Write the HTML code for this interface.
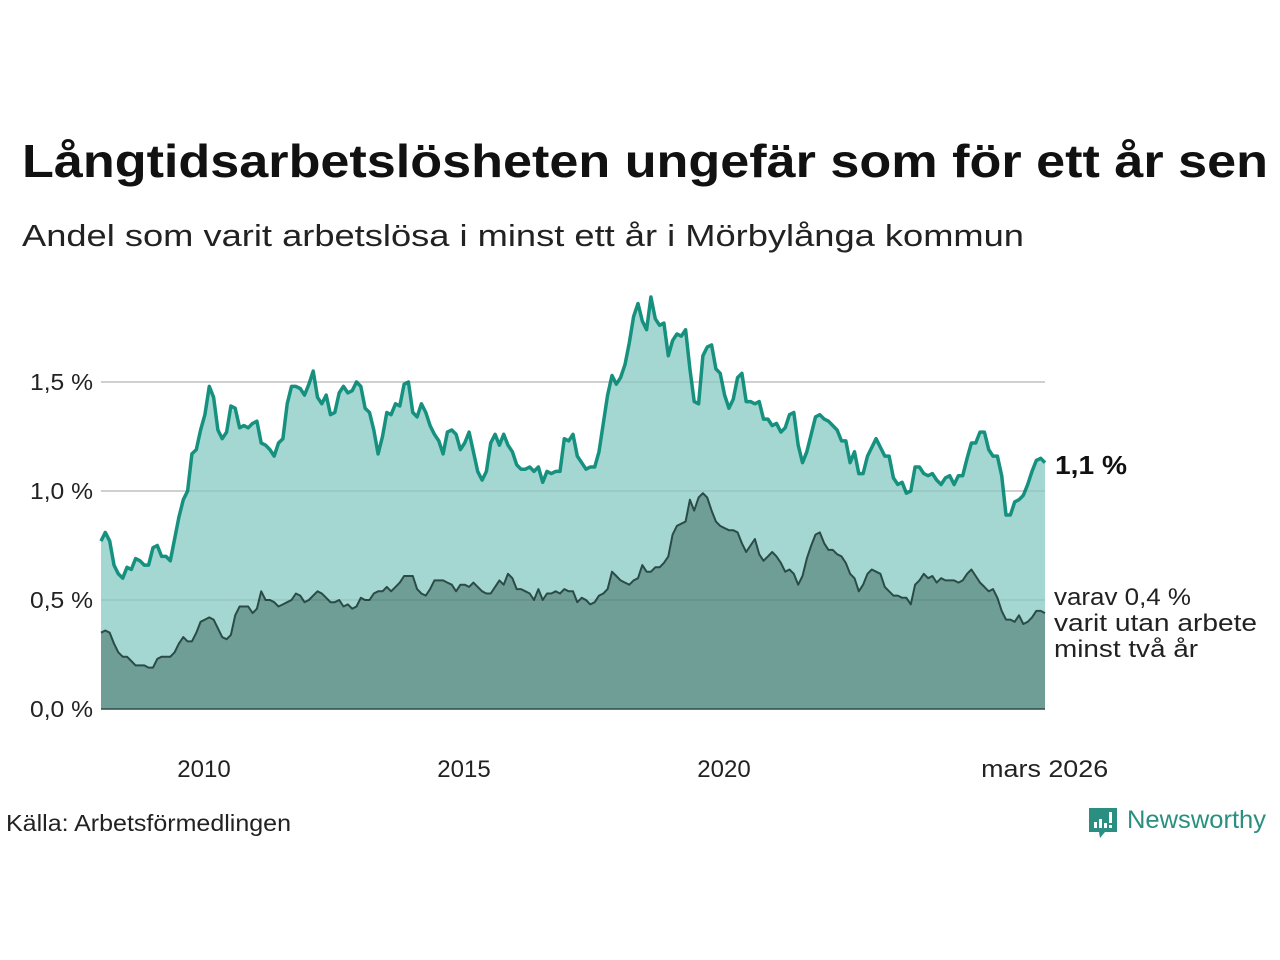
<!DOCTYPE html>
<html><head><meta charset="utf-8"><style>
body{margin:0;background:#fff;}
svg{display:block;font-family:"Liberation Sans","DejaVu Sans",sans-serif;}
</style></head><body>
<svg id="chart" width="1280" height="960" viewBox="0 0 1280 960">
<text x="22" y="177" font-size="46" font-weight="bold" fill="#111" textLength="1246" lengthAdjust="spacingAndGlyphs">Långtidsarbetslösheten ungefär som för ett år sen</text>
<text x="22" y="246" font-size="31" fill="#222" textLength="1002" lengthAdjust="spacingAndGlyphs">Andel som varit arbetslösa i minst ett år i Mörbylånga kommun</text>
<g id="grid"></g>
<g id="areas"></g>
<g id="yticks"></g>
<g id="xticks"></g>
<text x="1055" y="474" font-size="26" font-weight="bold" fill="#111" textLength="72" lengthAdjust="spacingAndGlyphs">1,1 %</text>
<g font-size="24" fill="#222">
<text x="1054" y="605" textLength="137" lengthAdjust="spacingAndGlyphs">varav 0,4 %</text>
<text x="1054" y="631" textLength="203" lengthAdjust="spacingAndGlyphs">varit utan arbete</text>
<text x="1054" y="657" textLength="144" lengthAdjust="spacingAndGlyphs">minst två år</text>
</g>
<text x="6" y="831" font-size="23" fill="#222" textLength="285" lengthAdjust="spacingAndGlyphs">Källa: Arbetsförmedlingen</text>
<g>
<path d="M1089 808 h28 v24 h-12 l-5 6 l-1 -6 h-10 z" fill="#2a8f81"/>
<rect x="1094" y="822" width="3" height="6" fill="#fff"/><rect x="1099" y="819" width="3" height="9" fill="#fff"/><rect x="1104" y="823" width="3" height="5" fill="#fff"/><rect x="1109" y="812" width="3" height="11" fill="#fff"/><rect x="1109" y="825" width="3" height="3" fill="#fff"/>
<text x="1127" y="828" font-size="25" fill="#2a8f81" textLength="139" lengthAdjust="spacingAndGlyphs">Newsworthy</text>
</g>
</svg>
<script>
const totalValues=[0.77,0.81,0.77,0.66,0.62,0.60,0.65,0.64,0.69,0.68,0.66,0.66,
0.74,0.75,0.70,0.70,0.68,0.78,0.88,0.96,1.00,1.17,1.19,1.28,
1.35,1.48,1.43,1.28,1.24,1.27,1.39,1.38,1.29,1.30,1.29,1.31,
1.32,1.22,1.21,1.19,1.16,1.22,1.24,1.40,1.48,1.48,1.47,1.44,
1.49,1.55,1.43,1.40,1.44,1.35,1.36,1.45,1.48,1.45,1.46,1.50,
1.48,1.38,1.36,1.28,1.17,1.25,1.36,1.35,1.40,1.39,1.49,1.50,
1.36,1.34,1.40,1.36,1.30,1.26,1.23,1.17,1.27,1.28,1.26,1.19,
1.22,1.27,1.18,1.09,1.05,1.09,1.22,1.26,1.21,1.26,1.21,1.18,
1.12,1.10,1.10,1.11,1.09,1.11,1.04,1.09,1.08,1.09,1.09,1.24,
1.23,1.26,1.16,1.13,1.10,1.11,1.11,1.18,1.31,1.44,1.53,1.49,
1.52,1.58,1.68,1.80,1.86,1.78,1.74,1.89,1.79,1.76,1.77,1.62,
1.69,1.72,1.71,1.74,1.56,1.41,1.40,1.62,1.66,1.67,1.56,1.54,
1.44,1.38,1.42,1.52,1.54,1.41,1.41,1.40,1.41,1.33,1.33,1.30,
1.31,1.27,1.29,1.35,1.36,1.21,1.13,1.18,1.26,1.34,1.35,1.33,
1.32,1.30,1.28,1.23,1.23,1.13,1.18,1.08,1.08,1.16,1.20,1.24,
1.20,1.16,1.16,1.06,1.03,1.04,0.99,1.00,1.11,1.11,1.08,1.07,
1.08,1.05,1.03,1.06,1.07,1.03,1.07,1.07,1.15,1.22,1.22,1.27,
1.27,1.19,1.16,1.16,1.07,0.89,0.89,0.95,0.96,0.98,1.03,1.09,
1.14,1.15,1.13];
const longValues=[0.35,0.36,0.35,0.30,0.26,0.24,0.24,0.22,0.20,0.20,0.20,0.19,
0.19,0.23,0.24,0.24,0.24,0.26,0.30,0.33,0.31,0.31,0.35,0.40,
0.41,0.42,0.41,0.37,0.33,0.32,0.34,0.43,0.47,0.47,0.47,0.44,
0.46,0.54,0.50,0.50,0.49,0.47,0.48,0.49,0.50,0.53,0.52,0.49,
0.50,0.52,0.54,0.53,0.51,0.49,0.49,0.50,0.47,0.48,0.46,0.47,
0.51,0.50,0.50,0.53,0.54,0.54,0.56,0.54,0.56,0.58,0.61,0.61,
0.61,0.55,0.53,0.52,0.55,0.59,0.59,0.59,0.58,0.57,0.54,0.57,
0.57,0.56,0.58,0.56,0.54,0.53,0.53,0.56,0.59,0.57,0.62,0.60,
0.55,0.55,0.54,0.53,0.50,0.55,0.50,0.53,0.53,0.54,0.53,0.55,
0.54,0.54,0.49,0.51,0.50,0.48,0.49,0.52,0.53,0.55,0.63,0.61,
0.59,0.58,0.57,0.59,0.60,0.66,0.63,0.63,0.65,0.65,0.67,0.70,
0.80,0.84,0.85,0.86,0.96,0.91,0.97,0.99,0.97,0.91,0.86,0.84,
0.83,0.82,0.82,0.81,0.76,0.72,0.75,0.78,0.71,0.68,0.70,0.72,
0.70,0.67,0.63,0.64,0.62,0.57,0.61,0.69,0.75,0.80,0.81,0.76,
0.73,0.73,0.71,0.70,0.67,0.62,0.60,0.54,0.57,0.62,0.64,0.63,
0.62,0.56,0.54,0.52,0.52,0.51,0.51,0.48,0.57,0.59,0.62,0.60,
0.61,0.58,0.60,0.59,0.59,0.59,0.58,0.59,0.62,0.64,0.61,0.58,
0.56,0.54,0.55,0.51,0.45,0.41,0.41,0.40,0.43,0.39,0.40,0.42,
0.45,0.45,0.44];
const yTickValues=[0,0.5,1.0,1.5];
const yTickLabels=["0,0 %","0,5 %","1,0 %","1,5 %"];
const xTickYears=[2010,2015,2020,2026.1667];
const xTickLabels=["2010","2015","2020","mars 2026"];
const startYear=2008;

const NS="http://www.w3.org/2000/svg";
const X0=101,X1=1045,Y0=709,YS=218;
const xYear=y=>724+(y-2020)*52;
const xIdx=i=>X0+(X1-X0)*i/(totalValues.length-1);
const yVal=v=>Y0-v*YS;
function mk(tag,attrs,parent){const e=document.createElementNS(NS,tag);for(const k in attrs)e.setAttribute(k,attrs[k]);parent.appendChild(e);return e;}
const grid=document.getElementById('grid'),areas=document.getElementById('areas'),yt=document.getElementById('yticks'),xt=document.getElementById('xticks');
yTickValues.forEach((v,i)=>{
  if(v>0){const l=mk('line',{x1:X0,x2:X1,y1:yVal(v),y2:yVal(v),stroke:'#dddddd','stroke-width':2},grid);
  
  }
  const t=mk('text',{x:93,y:yVal(v)+8,'text-anchor':'end','font-size':23,fill:'#222',textLength:63,lengthAdjust:'spacingAndGlyphs'},yt);
  t.textContent=yTickLabels[i];
  
  
});
xTickYears.forEach((y,i)=>{
  const t=mk('text',{x:xYear(y),y:777,'text-anchor':'middle','font-size':24,fill:'#222'},xt);
  if(i===3){t.setAttribute('textLength',127);t.setAttribute('lengthAdjust','spacingAndGlyphs');}
  t.textContent=xTickLabels[i];
  
  
});
function pts(arr){return arr.map((v,i)=>xIdx(i).toFixed(1)+','+yVal(v).toFixed(1)).join(' ');}
function area(arr,fill,stroke,sw,name){
  const p=pts(arr);
  const a=mk('polygon',{points:X0+','+Y0+' '+p+' '+X1+','+Y0,fill:fill},areas);
  
  
  const l=mk('polyline',{points:p,fill:'none',stroke:stroke,'stroke-width':sw,'stroke-linejoin':'round'},areas);
  
  
}
area(totalValues,'#a5d7d2','#17917f',3.5,'total-unemployment');
area(longValues,'#6f9e97','#2b4b47',2,'two-year-unemployment');
yTickValues.forEach(v=>{if(v>0){const l=mk('line',{x1:X0,x2:X1,y1:yVal(v),y2:yVal(v),stroke:'#000','stroke-opacity':0.06,'stroke-width':2},areas);

}});
const base=mk('line',{x1:X0,x2:X1,y1:Y0,y2:Y0,stroke:'#2b4b47','stroke-width':1.5},areas);


</script>
</body></html>
